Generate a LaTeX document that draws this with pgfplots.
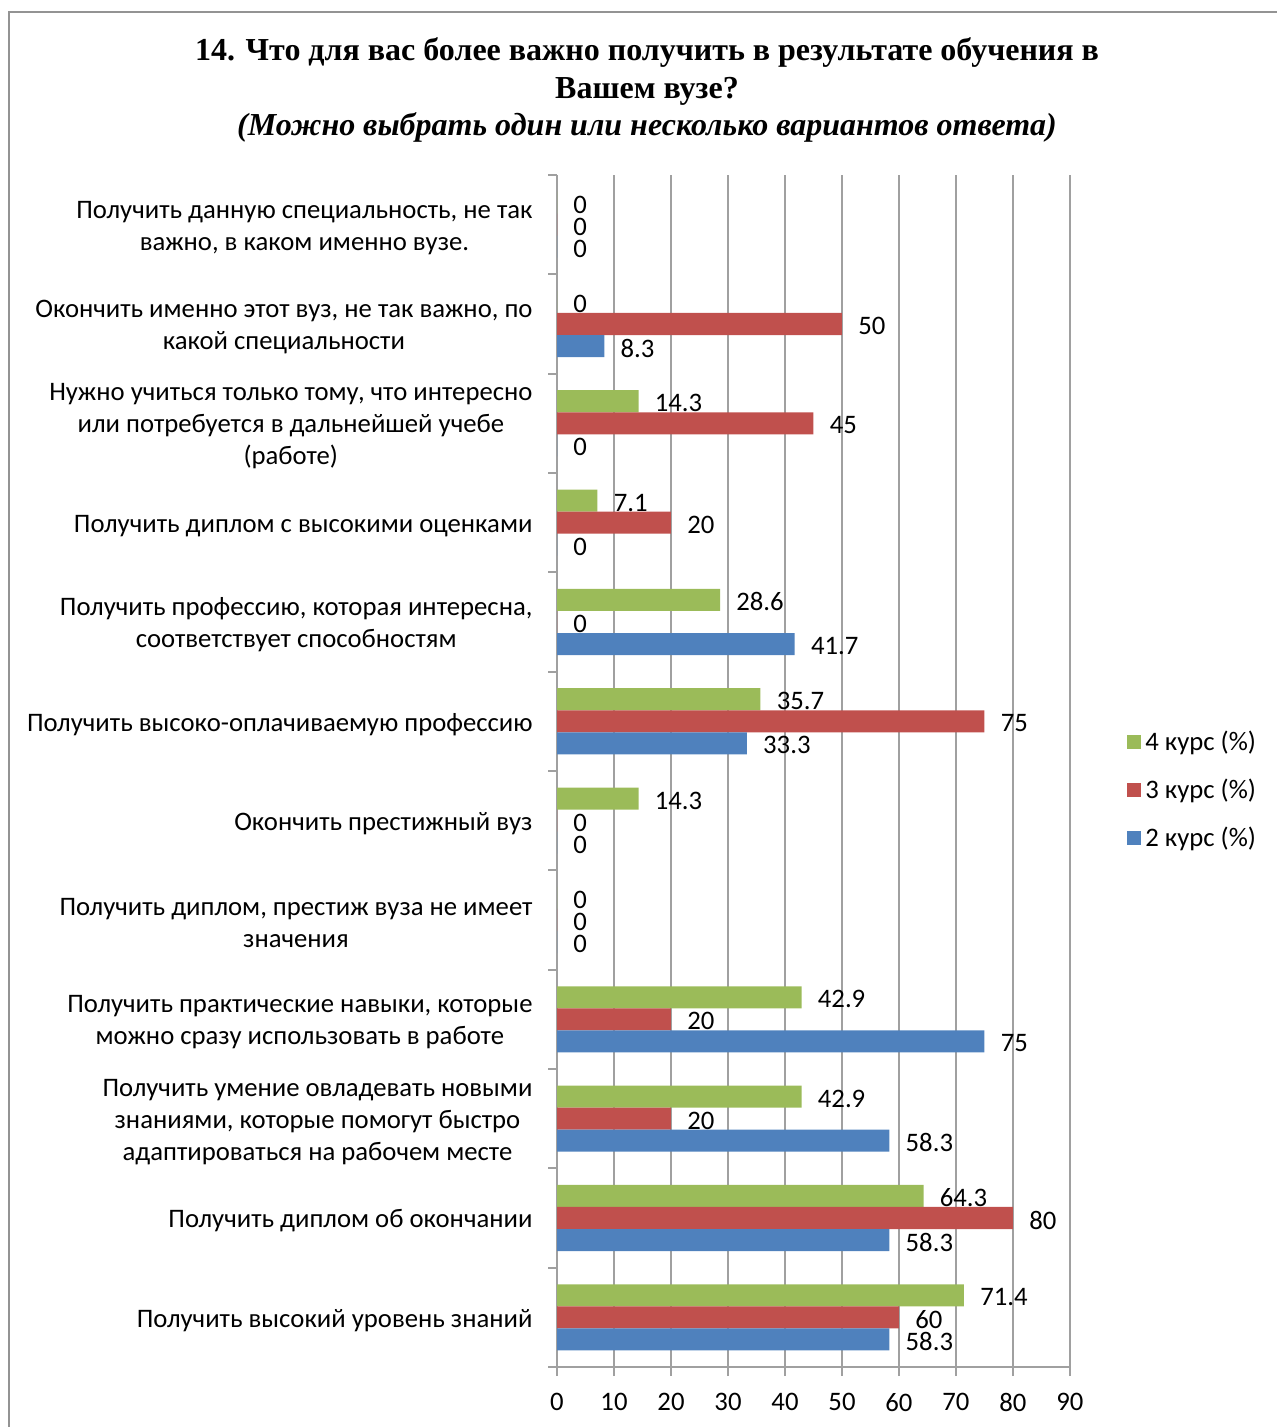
\documentclass[border=0pt]{standalone}
\usepackage{fontspec}
\setmainfont{Carlito}
\newfontfamily\titlefont{Liberation Serif}
\usepackage{pgfplots}
\pgfplotsset{compat=1.18}
\definecolor{c2}{HTML}{4F81BD}
\definecolor{c3}{HTML}{C0504D}
\definecolor{c4}{HTML}{9BBB59}
\definecolor{gridc}{HTML}{A0A0A0}
\begin{document}
\begin{tikzpicture}
\useasboundingbox (0,0) rectangle (638.5pt,713.5pt);
\draw[color=gray!85, line width=1pt] (4.5pt,-20pt) -- (4.5pt,707.5pt) -- (660pt,707.5pt);
\node[font=\titlefont\bfseries\fontsize{16pt}{18.75pt}\selectfont, align=center] at (323.5pt,668.5pt)
 {14. Что для вас более важно получить в результате обучения в\\Вашем вузе?\\\textit{(Можно выбрать один или несколько вариантов ответа)}};
\begin{axis}[
 at={(278.5pt,30pt)}, anchor=south west,
 scale only axis, width=256.5pt, height=596pt,
 xbar,
 xmin=0, xmax=90, ymin=-0.5, ymax=11.5,
 xtick={0,10,...,90},
 axis x line*=bottom, axis y line*=left,
 axis line style={gridc, line width=1pt},
 xmajorgrids, grid style={gridc, line width=1pt},
 tick align=outside, major tick length=4.5pt,
 tick style={gridc, line width=1pt},
 ytick={-0.5,0.5,...,11.5}, yticklabels={},
 /pgf/number format/assume math mode=true,
 ticklabel style={font=\fontsize{13.35pt}{16pt}\selectfont, text=black},
 xticklabel style={yshift=-5pt},
 extra y ticks={0,1,2,3,4,5,6,7,8,9,10,11},
 extra y tick labels={
  Получить высокий уровень знаний,
  Получить диплом об окончании,
  {Получить умение овладевать новыми\\знаниями, которые помогут быстро\\адаптироваться на рабочем месте},
  {Получить практические навыки, которые\\можно сразу использовать в работе},
  {Получить диплом, престиж вуза не имеет\\значения},
  Окончить престижный вуз,
  Получить высоко-оплачиваемую профессию,
  {Получить профессию, которая интересна,\\соответствует способностям},
  Получить диплом с высокими оценками,
  {Нужно учиться только тому, что интересно\\или потребуется в дальнейшей учебе\\(работе)},
  {Окончить именно этот вуз, не так важно, по\\какой специальности},
  {Получить данную специальность, не так\\важно, в каком именно вузе.}
 },
 extra y tick style={major tick length=0pt, ymajorgrids=false,
   yticklabel style={align=center, anchor=east, xshift=-8.75pt, yshift=-1.5pt}},
 bar width=0.222,
 nodes near coords,
 every node near coord/.append style={anchor=west, inner sep=0pt, xshift=8pt, yshift=-1pt,
   font=\fontsize{13.35pt}{16pt}\selectfont, text=black},
 legend style={at={(1.111,0.484)}, anchor=west, draw=none, fill=none,
   font=\fontsize{13.35pt}{16pt}\selectfont, row sep=8.8pt, inner sep=0pt},
 legend cell align=left,
 legend image code/.code={\fill[#1] (0pt,-3.5pt) rectangle (7pt,3.5pt);},
]
\addplot[fill=c4, draw=none, bar shift=0.222] coordinates {
 (71.4,0) (64.3,1) (42.9,2) (42.9,3) (0,4) (14.3,5) (35.7,6) (28.6,7) (7.1,8) (14.3,9) (0,10) (0,11)};
\addplot[fill=c3, draw=none, bar shift=0] coordinates {
 (60,0) (80,1) (20,2) (20,3) (0,4) (0,5) (75,6) (0,7) (20,8) (45,9) (50,10) (0,11)};
\addplot[fill=c2, draw=none, bar shift=-0.222] coordinates {
 (58.3,0) (58.3,1) (58.3,2) (75,3) (0,4) (0,5) (33.3,6) (41.7,7) (0,8) (0,9) (8.3,10) (0,11)};
\legend{4 курс (\%), 3 курс (\%), 2 курс (\%)}
\end{axis}
\end{tikzpicture}
\end{document}
